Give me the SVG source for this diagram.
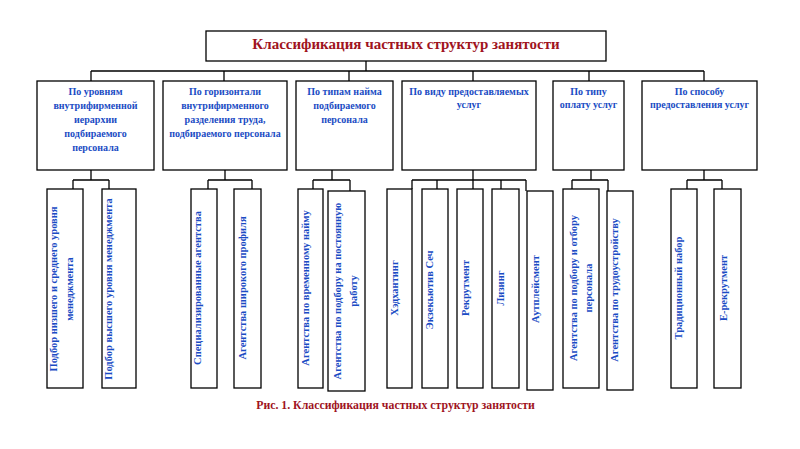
<svg xmlns="http://www.w3.org/2000/svg" width="800" height="449" viewBox="0 0 800 449">
<style>
.box{fill:#fff;stroke:#000;stroke-width:1.3}
.ln{fill:none;stroke:#000;stroke-width:1.3}
.cat{font-family:"Liberation Serif","DejaVu Serif",serif;font-weight:bold;font-size:10px;fill:#1a4cc4;text-anchor:middle}
.lf{font-family:"Liberation Serif","DejaVu Serif",serif;font-weight:bold;font-size:10.5px;fill:#1a4cc4;text-anchor:middle}
.ttl{font-family:"Liberation Serif","DejaVu Serif",serif;font-weight:bold;font-size:15px;fill:#a0141e;text-anchor:middle}
.cap{font-family:"Liberation Serif","DejaVu Serif",serif;font-weight:bold;font-size:11.8px;fill:#a0141e;text-anchor:middle}
</style>
<rect width="800" height="449" fill="#fff"/>
<g id="connectors" class="ln">
<path d="M366 61V71M91 71H704M91 71V81M224 71V81M349 71V81M473 71V81M589 71V81M704 71V81"/>
<path d="M91 170V180M73 180H109M73 180V189M109 180V189"/>
<path d="M225 170V180M208 180H252M208 180V189M252 180V189"/>
<path d="M332 170V180M313 180H350M313 180V189M350 180V191"/>
<path d="M473 170V180M412 180H526M412 180V189M437 180V189M473 180V189M501 180V189M526 180V191"/>
<path d="M591 170V180M572 180H608M572 180V189M608 180V191"/>
<path d="M704 170V180M687 180H722M687 180V189M722 180V189"/>
</g>
<g id="title"><rect class="box" x="206" y="31" width="400" height="30"/><text class="ttl" x="406" y="49">Классификация частных структур занятости</text></g>
<g id="cat1"><rect class="box" x="37" y="81" width="117" height="89"/><text class="cat"><tspan x="95.5" y="94.5">По уровням</tspan><tspan x="95.5" y="108.5">внутрифирменной</tspan><tspan x="95.5" y="122.5">иерархии</tspan><tspan x="95.5" y="136.5">подбираемого</tspan><tspan x="95.5" y="150.5">персонала</tspan></text></g>
<g id="cat2"><rect class="box" x="163" y="81" width="124" height="89"/><text class="cat"><tspan x="225" y="94.5">По горизонтали</tspan><tspan x="225" y="108.5">внутрифирменного</tspan><tspan x="225" y="122.5">разделения труда,</tspan><tspan x="225" y="136.5">подбираемого персонала</tspan></text></g>
<g id="cat3"><rect class="box" x="296" y="81" width="97" height="89"/><text class="cat"><tspan x="344.5" y="94.5">По типам найма</tspan><tspan x="344.5" y="108.5">подбираемого</tspan><tspan x="344.5" y="122.5">персонала</tspan></text></g>
<g id="cat4"><rect class="box" x="402" y="81" width="134" height="89"/><text class="cat"><tspan x="469" y="94.5">По виду предоставляемых</tspan><tspan x="469" y="107.5">услуг</tspan></text></g>
<g id="cat5"><rect class="box" x="553" y="81" width="71" height="89"/><text class="cat"><tspan x="588.5" y="94.5">По типу</tspan><tspan x="588.5" y="107.5">оплату услуг</tspan></text></g>
<g id="cat6"><rect class="box" x="642" y="81" width="115" height="89"/><text class="cat"><tspan x="699.5" y="94.5">По способу</tspan><tspan x="699.5" y="107.5">предоставления услуг</tspan></text></g>
<g id="leaf1"><rect class="box" x="47" y="189" width="36" height="199"/><text class="lf" transform="translate(57,289) rotate(-90)">Подбор низшего и среднего уровня</text><text class="lf" transform="translate(73,289) rotate(-90)">менеджмента</text></g>
<g id="leaf2"><rect class="box" x="102" y="189" width="34" height="199"/><text class="lf" transform="translate(112,289) rotate(-90)">Подбор высшего уровня менеджмента</text></g>
<g id="leaf3"><rect class="box" x="191" y="189" width="26" height="199"/><text class="lf" transform="translate(201,288) rotate(-90)">Специализированные агентства</text></g>
<g id="leaf4"><rect class="box" x="234" y="189" width="27" height="199"/><text class="lf" transform="translate(246,288) rotate(-90)">Агентства широкого профиля</text></g>
<g id="leaf5"><rect class="box" x="298" y="189" width="25" height="199"/><text class="lf" transform="translate(309,288) rotate(-90)">Агентства по временному найму</text></g>
<g id="leaf6"><rect class="box" x="328" y="191" width="37" height="200"/><text class="lf" transform="translate(341,291) rotate(-90)">Агентства по подбору на постоянную</text><text class="lf" transform="translate(357,291) rotate(-90)">работу</text></g>
<g id="leaf7"><rect class="box" x="387" y="189" width="25" height="199"/><text class="lf" transform="translate(398,288) rotate(-90)">Хэдхантинг</text></g>
<g id="leaf8"><rect class="box" x="422" y="189" width="26" height="199"/><text class="lf" transform="translate(433,290) rotate(-90)">Экзекьютив Сеч</text></g>
<g id="leaf9"><rect class="box" x="457" y="189" width="26" height="199"/><text class="lf" transform="translate(469,288) rotate(-90)">Рекрутмент</text></g>
<g id="leaf10"><rect class="box" x="492" y="189" width="27" height="199"/><text class="lf" transform="translate(504,288) rotate(-90)">Лизинг</text></g>
<g id="leaf11"><rect class="box" x="527" y="191" width="26" height="199"/><text class="lf" transform="translate(539,289) rotate(-90)">Аутплейсмент</text></g>
<g id="leaf12"><rect class="box" x="563" y="189" width="36" height="199"/><text class="lf" transform="translate(577,288) rotate(-90)">Агентства по подбору и отбору</text><text class="lf" transform="translate(592,288) rotate(-90)">персонала</text></g>
<g id="leaf13"><rect class="box" x="607" y="191" width="26" height="199"/><text class="lf" transform="translate(618,290) rotate(-90)">Агентства по трудоустройству</text></g>
<g id="leaf14"><rect class="box" x="671" y="189" width="26" height="199"/><text class="lf" transform="translate(682,288) rotate(-90)">Традиционный набор</text></g>
<g id="leaf15"><rect class="box" x="714" y="189" width="27" height="199"/><text class="lf" transform="translate(727,288) rotate(-90)">E-рекрутмент</text></g>
<text class="cap" x="395.5" y="409">Рис. 1. Классификация частных структур занятости</text>
</svg>
